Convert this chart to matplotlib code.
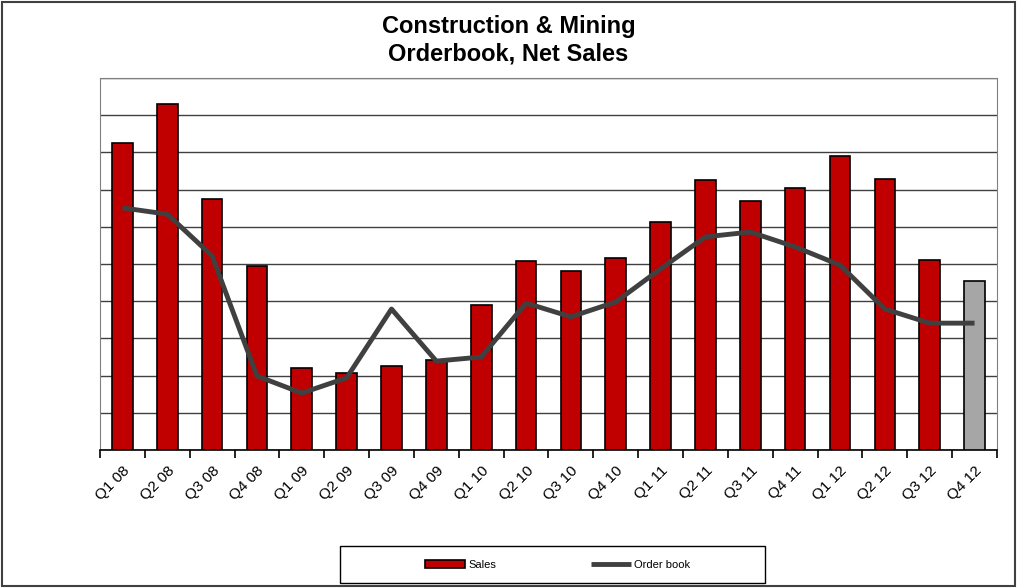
import matplotlib.pyplot as plt
import numpy as np
from matplotlib.patches import Rectangle

plt.rcParams['font.family'] = ['Liberation Sans', 'DejaVu Sans']

quarters = ["Q1 08", "Q2 08", "Q3 08", "Q4 08", "Q1 09", "Q2 09", "Q3 09", "Q4 09",
            "Q1 10", "Q2 10", "Q3 10", "Q4 10", "Q1 11", "Q2 11", "Q3 11", "Q4 11",
            "Q1 12", "Q2 12", "Q3 12", "Q4 12"]
sales = [8.25, 9.30, 6.75, 4.95, 2.20, 2.07, 2.26, 2.42, 3.90, 5.08,
         4.81, 5.16, 6.13, 7.26, 6.69, 7.04, 7.90, 7.28, 5.11, 4.54]
order_book = [6.51, 6.34, 5.22, 1.99, 1.53, 1.94, 3.79, 2.39, 2.50, 3.95,
              3.58, 3.98, 4.87, 5.73, 5.86, 5.46, 4.97, 3.79, 3.41, 3.41]

fig = plt.figure(figsize=(10.17, 5.88), dpi=100)
ax = fig.add_axes([0.0983, 0.2347, 0.8820, 0.6326])

x = np.arange(len(quarters))
colors = ["#C00000"] * (len(quarters) - 1) + ["#A6A6A6"]
bars = ax.bar(x, sales, width=0.46, color=colors, edgecolor="black", linewidth=1.2,
              zorder=3, label="Sales")
line, = ax.plot(x, order_book, color="#404040", linewidth=3.5, zorder=4,
                solid_capstyle="butt", label="Order book")

ax.set_xlim(-0.5, len(quarters) - 0.5)
ax.set_ylim(0, 10)
ax.set_yticks(np.arange(0, 11, 1))
ax.set_yticklabels([])
ax.tick_params(axis="y", length=0)
ax.yaxis.grid(True, color="#404040", linewidth=1.0, zorder=0)

ax.set_xticks(x)
ax.set_xticklabels(quarters, rotation=45, ha="right", rotation_mode="anchor", fontsize=11)
ax.tick_params(axis="x", which="major", length=0, pad=10)
ax.set_xticks(np.arange(-0.5, len(quarters), 1), minor=True)
ax.tick_params(axis="x", which="minor", length=6, width=1.2, color="black", direction="out")

for side in ["top", "right", "left"]:
    ax.spines[side].set_color("#808080")
ax.spines["bottom"].set_color("black")
ax.spines["bottom"].set_linewidth(1.2)

fig.text(0.5, 0.955, "Construction & Mining", ha="center", va="center",
         fontsize=17, fontweight="bold")
fig.text(0.5, 0.908, "Orderbook, Net Sales", ha="center", va="center",
         fontsize=17, fontweight="bold")

# legend box drawn separately, entries centred inside
fig.patches.append(Rectangle((340 / 1017, 5 / 588), 425 / 1017, 37 / 588,
                             transform=fig.transFigure, fill=False,
                             edgecolor="black", linewidth=1.0))
leg = fig.legend([bars, line], ["Sales", "Order book"], ncol=2, loc="center",
                 bbox_to_anchor=(558 / 1017, 23.5 / 588), fontsize=8, frameon=False,
                 handlelength=3.6, columnspacing=8.5, handletextpad=0.3)

fig.patches.append(Rectangle((0.002, 0.003), 0.996, 0.994, transform=fig.transFigure,
                             fill=False, edgecolor="#404040", linewidth=1.5))

fig.savefig("out.png", dpi=100)
